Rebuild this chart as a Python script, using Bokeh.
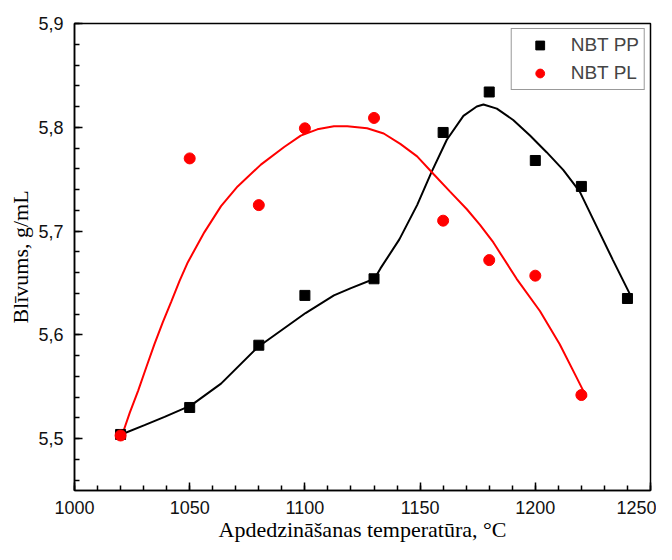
from bokeh.plotting import figure
from bokeh.models import Range1d, CustomJSTickFormatter, Legend, LegendItem, SingleIntervalTicker
from bokeh.embed import file_html
from bokeh.resources import INLINE

# measured points
pp_x = [1020, 1050, 1080, 1100, 1130, 1160, 1180, 1200, 1220, 1240]
pp_y = [5.504, 5.530, 5.590, 5.638, 5.654, 5.795, 5.834, 5.768, 5.743, 5.635]
pl_x = [1020, 1050, 1080, 1100, 1130, 1160, 1180, 1200, 1220]
pl_y = [5.503, 5.770, 5.725, 5.799, 5.809, 5.710, 5.672, 5.657, 5.542]

# smooth fit curves
pp_fit_x = [1020.3, 1030.4, 1039.1, 1050.6, 1063.6, 1079.5, 1100.3, 1112.6, 1120.0, 1130.2,
            1132.8, 1141.0, 1148.7, 1155.0, 1161.6, 1168.8, 1174.6, 1177.5, 1183.3, 1190.4,
            1197.7, 1204.9, 1212.1, 1219.3, 1226.5, 1233.7, 1240.9]
pp_fit_y = [5.504, 5.513, 5.521, 5.532, 5.553, 5.588, 5.621, 5.638, 5.645, 5.654,
            5.664, 5.692, 5.725, 5.757, 5.788, 5.811, 5.820, 5.822, 5.818, 5.807,
            5.792, 5.776, 5.759, 5.738, 5.705, 5.672, 5.640]
pl_fit_x = [1020.6, 1024.0, 1027.6, 1031.2, 1034.7, 1038.3, 1042.0, 1045.6, 1049.2, 1056.4,
            1063.6, 1070.8, 1080.9, 1091.0, 1098.2, 1105.4, 1112.6, 1118.4, 1127.0, 1134.2,
            1141.4, 1148.7, 1155.8, 1163.0, 1170.3, 1176.0, 1181.8, 1191.9, 1202.0, 1210.6,
            1217.9, 1222.2]
pl_fit_y = [5.503, 5.525, 5.546, 5.569, 5.591, 5.612, 5.632, 5.652, 5.670, 5.699,
            5.724, 5.743, 5.764, 5.781, 5.792, 5.798, 5.801, 5.801, 5.799, 5.794,
            5.784, 5.772, 5.755, 5.738, 5.721, 5.706, 5.689, 5.654, 5.623, 5.591,
            5.559, 5.540]

x_label = "Apdedzināšanas temperatūra, °C"
y_label = "Blīvums, g/mL"
series_names = ["NBT PP", "NBT PL"]

p = figure(width=656, height=544, x_range=Range1d(1000, 1250), y_range=Range1d(5.45, 5.9),
           output_backend="svg", toolbar_location=None,
           min_border_left=74, min_border_right=6, min_border_top=23, min_border_bottom=54)
p.xgrid.visible = False
p.ygrid.visible = False
p.outline_line_color = "black"
p.outline_line_width = 1.5
p.outline_line_alpha = 1.0

p.xaxis.ticker = SingleIntervalTicker(interval=50, num_minor_ticks=5)
p.yaxis.ticker = SingleIntervalTicker(interval=0.1, num_minor_ticks=5)
p.yaxis.formatter = CustomJSTickFormatter(code="return tick.toFixed(1).replace('.', ',');")
p.xaxis.formatter = CustomJSTickFormatter(code="return tick.toFixed(0);")

for ax in (p.xaxis[0], p.yaxis[0]):
    ax.major_tick_in = 8
    ax.major_tick_out = 0
    ax.minor_tick_in = 5
    ax.minor_tick_out = 0
    ax.axis_line_width = 1.5
    ax.axis_line_color = "black"
    ax.major_tick_line_color = "black"
    ax.minor_tick_line_color = "black"
    ax.major_tick_line_width = 1.5
    ax.minor_tick_line_width = 1.5
    ax.major_label_text_font = "Liberation Sans"
    ax.major_label_text_font_size = "18px"
    ax.major_label_text_color = "#111111"
    ax.axis_label_text_font = "Liberation Serif"
    ax.axis_label_text_font_size = "22px"
    ax.axis_label_text_font_style = "normal"
    ax.axis_label_text_color = "black"

p.xaxis.axis_label = x_label
p.yaxis.axis_label = y_label
p.xaxis.major_label_standoff = 10
p.xaxis.axis_label_standoff = 0
p.yaxis.major_label_standoff = 11
p.yaxis.axis_label_standoff = 2

p.line(pp_fit_x, pp_fit_y, line_color="black", line_width=2)
p.line(pl_fit_x, pl_fit_y, line_color="red", line_width=2)
r_pp = p.scatter(pp_x, pp_y, marker="square", size=10, fill_color="black", line_color="black")
r_pl = p.scatter(pl_x, pl_y, marker="circle", size=11, fill_color="red", line_color="red")

legend = Legend(items=[LegendItem(label=series_names[0], renderers=[r_pp]),
                       LegendItem(label=series_names[1], renderers=[r_pl])],
                location="top_right", margin=5, padding=5, spacing=6,
                glyph_width=46, glyph_height=22, label_standoff=8,
                label_text_font="Liberation Sans", label_text_font_size="19px",
                border_line_color="#333333", border_line_width=1,
                background_fill_color="white", background_fill_alpha=1.0)
p.add_layout(legend, "center")

open("out.html", "w").write(file_html(p, INLINE))
